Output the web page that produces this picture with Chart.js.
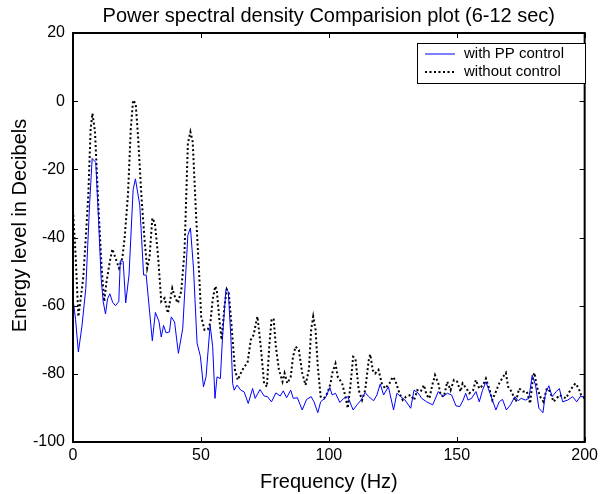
<!DOCTYPE html>
<html>
<head>
<meta charset="utf-8">
<script src="https://cdn.jsdelivr.net/npm/chart.js@4/dist/chart.umd.min.js"></script>
<style>
  html, body { margin: 0; padding: 0; background: #fff; }
</style>
</head>
<body>
<canvas id="psd" width="602" height="494"></canvas>
<script>
  // 数据
  const withFreq = [0, 1, 2.1, 3.5, 5, 6.5, 7.5, 8.9, 10, 11, 11.8, 12.7, 13.5, 14.4, 15.5, 16.6, 17.9, 18.5, 19.6, 20.6,
    21.9, 23.5, 24.4, 26.1, 27.6, 28.6, 31, 32.2, 33.6, 34.5, 35.4, 36.4, 37.7, 38.4, 39.7, 41.2, 42.9, 44.9, 45.9, 47.1,
    48.5, 49.8, 51, 52, 53.6, 54.6, 55.5, 56.3, 57.6, 58.5, 59.8, 60.7, 61.7, 62.4, 63, 64.1, 65.6, 66.9, 68.5, 70.2,
    71.2, 73.1, 74.7, 76, 77.6, 79.3, 81, 82.2, 83.5, 85.1, 86.1, 87.7, 89.6, 91.3, 93.1, 94.2, 95.7, 96.8, 98.7, 100.4,
    101.3, 102.6, 104.3, 105.8, 107.4, 109.5, 111, 112.6, 114.2, 115.6, 117.5, 118.8, 120.1, 121.4, 123.3, 125.3, 126.6, 128.1, 129.8, 132,
    133.3, 135, 136.3, 138.2, 140.6, 142.8, 144.7, 146.3, 148, 149.7, 151.2, 152.5, 153.5, 154.4, 155.8, 157.5, 158.8, 160.1, 161.4, 163,
    164.2, 165.3, 166.6, 167.9, 169.4, 171, 172.7, 174, 175.2, 176.9, 178.2, 179.5, 180.8, 182.1, 183.7, 184.7, 186, 187.3, 188.9, 190.1,
    191.4, 193.4, 195.3, 196.9, 198.2, 200];
  const withDb = [-58, -64, -73.6, -66, -55, -30, -16.8, -18, -35, -52, -58.8, -62.4, -58, -56.5, -59, -60, -58.8, -46.8, -47, -59.2,
    -51, -26, -22.8, -30.5, -51, -51, -70.3, -62, -64.6, -69.2, -65.8, -68, -67.7, -63.3, -64.8, -74, -66.7, -39.3, -37.2, -49,
    -71, -74.9, -83.8, -80.9, -65.7, -72, -87.2, -80.9, -81.4, -68.6, -55.2, -55.9, -69.1, -82.8, -84.8, -83.3, -84.8, -85.3, -88.7, -84.3,
    -87.2, -84.6, -86.5, -86.7, -88.2, -85.6, -86.5, -85, -87, -84.8, -87.2, -87, -90.6, -87.5, -86.7, -88.2, -91.4, -88.2, -87, -84,
    -86.2, -85.7, -88.4, -87.2, -86.7, -90.6, -89.1, -87.7, -85.5, -86.7, -87.9, -86.2, -83, -86.2, -83.8, -90.6, -85.7, -86.7, -87.7, -90.1,
    -84.8, -85.7, -87.2, -88.2, -89.1, -85.2, -86.7, -85.7, -86.2, -89.4, -89.6, -87.7, -85.7, -87.7, -87.2, -85.2, -88.2, -84.8, -82.3, -85.7,
    -88.2, -90.6, -88.2, -87.5, -90.6, -89.1, -86.7, -87.9, -87.2, -87.7, -87.2, -80.4, -83.3, -90.1, -91.4, -85.7, -83.5, -86.7, -85.2, -84.3,
    -88.2, -87.7, -86.7, -88.2, -86.7, -86.7];

  const withoutFreq = [0, 1, 2.1, 3, 4, 5, 6, 6.9, 7.6, 8.6, 9.9, 11.2, 12.2, 13.1, 14.4, 15.4, 16.6, 18, 19.3, 20.2,
    21.5, 22.6, 23.5, 24.5, 25.4, 26.7, 28, 29, 29.9, 31, 32, 33.2, 34.5, 35.8, 37.1, 38.8, 40, 41, 42.3, 43.6,
    44.9, 45.9, 46.8, 48.1, 49.4, 50.1, 51.4, 52.7, 53.7, 54.6, 55.6, 56.2, 57.2, 58.1, 59.2, 60.1, 60.9, 62, 63.3, 64.4,
    65.6, 66.9, 68.2, 69.5, 70.6, 71.5, 72.1, 73.4, 74.7, 75.8, 76.7, 77.6, 78.4, 79.3, 80.5, 81.9, 82.7, 83.8, 85.1, 86,
    87, 88.3, 89.6, 90.9, 92.2, 93.1, 93.9, 94.8, 95.7, 96.8, 98.1, 99.4, 100.7, 101.3, 102.6, 103.5, 105.2, 106.5, 107.4, 108.4,
    109.5, 110.4, 111.7, 113, 114.2, 115.6, 116.2, 117.2, 118.1, 119.4, 120.7, 122, 123.7, 125, 125.9, 127.6, 128.9, 130.2, 132, 133.3,
    134.6, 135.9, 137.2, 138.2, 139.3, 140.6, 141.5, 142.8, 143.7, 145, 146.3, 147.6, 148.9, 150.2, 151.5, 152.3, 153.8, 154.9, 156.4, 157.5,
    158.8, 160.3, 161.4, 162.7, 163.9, 165.3, 166.6, 168.1, 169.2, 170.1, 171.4, 173.1, 174.4, 175.9, 177.4, 178.7, 179.8, 180.4, 181.3, 182.6,
    183.9, 185.2, 186.5, 187.8, 189.1, 190.1, 191.4, 192.7, 194.1, 195.3, 196.4, 197.7, 198.6, 200];
  const withoutDb = [-32, -45, -63.2, -58, -51.8, -40, -27.3, -8, -3.6, -8.9, -30.5, -49, -58.8, -53, -47, -43.4, -46, -49, -46, -40,
    -27.3, -8, 0.3, -0.7, -10, -27.3, -41, -49, -46, -34.3, -35.8, -45, -58.8, -57.8, -62.2, -54.9, -57.8, -59.2, -55.8, -44,
    -12.4, -9, -12, -33.3, -52, -63.2, -67.1, -67, -65, -58.2, -54.3, -55.3, -64.1, -70, -60.2, -55.2, -56.3, -66.1, -78.8, -81.8,
    -79.8, -77.9, -76.9, -70, -68.6, -65.2, -63.2, -72, -82.8, -83.8, -72, -64.2, -63.7, -72, -78.8, -82.3, -79.8, -82.8, -80.9, -75,
    -72, -73, -79.8, -83.3, -78.8, -67, -63.2, -67, -77.9, -86.7, -87.2, -85.7, -82.8, -79.9, -77, -80.9, -82.8, -86.7, -90.1, -83.8,
    -75, -75.5, -84.8, -87.7, -84.8, -76, -74.3, -79, -79.9, -78.8, -82.8, -84.3, -82.8, -80.9, -81.8, -85.7, -87.7, -86.7, -86.2, -87.7,
    -84.8, -85.2, -83.3, -86.2, -87.2, -82.8, -80.4, -82.8, -86.2, -86.7, -82.3, -84.8, -81.8, -82.3, -85.2, -82.8, -84.3, -85.7, -84.8, -81.8,
    -84.3, -83.3, -81.4, -84.3, -87.7, -85.2, -82.8, -80.9, -79.7, -83.8, -85.2, -88.2, -84.3, -85.2, -85.2, -88.7, -80.9, -79.7, -83.8, -86.7,
    -88.2, -84.3, -85.2, -88.2, -87.2, -86.2, -86.7, -87.2, -85.2, -83.8, -82.8, -84.3, -86.2, -87.2];

  const seriesLabels = ['with PP control', 'without control'];
  const titleText = 'Power spectral density Comparision plot (6-12 sec)';
  const xTitle = 'Frequency (Hz)';
  const yTitle = 'Energy level in Decibels';

  const fontFamily = '"Liberation Sans", Arial, Helvetica, sans-serif';

  function toPoints(xs, ys) {
    return xs.map((x, i) => ({ x: x, y: ys[i] }));
  }

  // 边框, 内向刻度, 标题和图例
  const matlabStyle = {
    id: 'matlabStyle',
    afterDatasetsDraw(chart) {
      const { ctx, chartArea: a, scales } = chart;
      const xs = scales.x, ys = scales.y;
      ctx.save();
      ctx.strokeStyle = '#000';
      ctx.lineWidth = 1;
      ctx.beginPath();
      xs.ticks.forEach(t => {
        const px = Math.round(xs.getPixelForValue(t.value)) + 0.5;
        ctx.moveTo(px, a.bottom); ctx.lineTo(px, a.bottom - 5);
        ctx.moveTo(px, a.top); ctx.lineTo(px, a.top + 5);
      });
      ys.ticks.forEach(t => {
        const py = Math.round(ys.getPixelForValue(t.value)) + 0.5;
        ctx.moveTo(a.left, py); ctx.lineTo(a.left + 5, py);
        ctx.moveTo(a.right, py); ctx.lineTo(a.right - 5, py);
      });
      ctx.stroke();
      ctx.lineWidth = 2;
      ctx.strokeRect(a.left, a.top, a.right - a.left, a.bottom - a.top);

      // 图例
      const lx = 417, ly = 43, lw = 168, lh = 40;
      ctx.fillStyle = '#fff';
      ctx.fillRect(lx, ly, lw, lh);
      ctx.lineWidth = 1;
      ctx.strokeRect(lx + 0.5, ly + 0.5, lw, lh);
      ctx.font = '15px ' + fontFamily;
      ctx.textBaseline = 'middle';
      ctx.textAlign = 'left';
      chart.data.datasets.forEach((ds, i) => {
        const yy = ly + 11 + i * 18;
        ctx.strokeStyle = ds.borderColor;
        ctx.lineWidth = ds.borderWidth;
        ctx.setLineDash(ds.borderDash || []);
        ctx.beginPath();
        ctx.moveTo(lx + 8, yy); ctx.lineTo(lx + 38, yy);
        ctx.stroke();
        ctx.setLineDash([]);
        ctx.fillStyle = '#000';
        ctx.fillText(ds.label, lx + 47, yy);
      });

      // 标题
      ctx.fillStyle = '#000';
      ctx.font = '20px ' + fontFamily;
      ctx.textAlign = 'center';
      ctx.textBaseline = 'middle';
      const cx = (a.left + a.right) / 2;
      ctx.fillText(titleText, cx, 16);
      ctx.fillText(xTitle, cx, 482);
      ctx.translate(20, (a.top + a.bottom) / 2 - 12);
      ctx.rotate(-Math.PI / 2);
      ctx.fillText(yTitle, 0, 0);
      ctx.restore();
    }
  };

  new Chart(document.getElementById('psd'), {
    type: 'line',
    data: {
      datasets: [
        {
          label: seriesLabels[0],
          data: toPoints(withFreq, withDb),
          borderColor: 'rgb(0,0,255)',
          borderWidth: 1,
          pointRadius: 0,
          tension: 0,
          fill: false
        },
        {
          label: seriesLabels[1],
          data: toPoints(withoutFreq, withoutDb),
          borderColor: '#000',
          borderWidth: 2,
          borderDash: [2, 2.5],
          pointRadius: 0,
          tension: 0,
          fill: false
        }
      ]
    },
    options: {
      responsive: false,
      animation: false,
      devicePixelRatio: 1,
      layout: { padding: { top: 33, right: 15, left: 0, bottom: 0 } },
      scales: {
        x: {
          type: 'linear',
          min: 0,
          max: 200,
          ticks: { stepSize: 50, color: '#000', font: { size: 16, family: fontFamily }, padding: 4, maxRotation: 0 },
          grid: { display: false, drawTicks: false },
          border: { display: false },
          afterFit: s => { s.height = 52; }
        },
        y: {
          min: -100,
          max: 20,
          ticks: { stepSize: 20, color: '#000', font: { size: 16, family: fontFamily }, padding: 8 },
          grid: { display: false, drawTicks: false },
          border: { display: false },
          afterFit: s => { s.width = 73; }
        }
      },
      plugins: {
        legend: { display: false },
        tooltip: { enabled: false },
        title: { display: false }
      }
    },
    plugins: [matlabStyle]
  });
</script>
</body>
</html>
